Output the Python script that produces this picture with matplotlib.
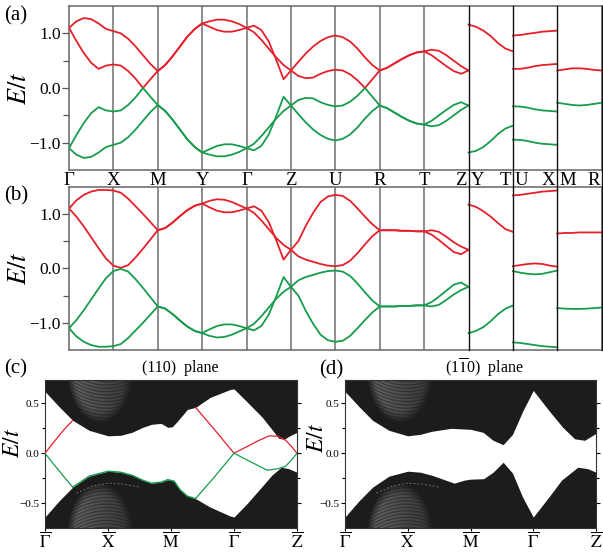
import numpy as np
import matplotlib
matplotlib.use('Agg')
import matplotlib.pyplot as plt
import matplotlib.transforms as mtrans
from matplotlib.lines import Line2D

plt.rcParams['font.family'] = ['Liberation Serif', 'DejaVu Serif']
plt.rcParams['mathtext.fontset'] = 'stix'

RED = '#e5202a'
GREEN = '#179c4d'
DARK = '#1c1c1c'

# ---- bulk bands, panels (a) and (b) ----
# path G-X-M-Y-G-Z-U-R-T-Z sampled every 1/6 of a segment
k_main = np.arange(55) / 6.0
k_short = np.arange(7) / 6.0

a_c1 = [1.10, 1.22, 1.28, 1.26, 1.18, 1.08,
        1.04, 1.00, 0.90, 0.76, 0.60, 0.44,
        0.31, 0.42, 0.58, 0.76, 0.94, 1.08,
        1.18, 1.22, 1.25, 1.25, 1.22, 1.17,
        1.10, 1.14, 1.06, 0.85, 0.52, 0.16,
        0.32, 0.48, 0.63, 0.76, 0.86, 0.93,
        0.96, 0.93, 0.85, 0.72, 0.56, 0.42,
        0.32, 0.37, 0.45, 0.53, 0.60, 0.65,
        0.67, 0.70, 0.68, 0.60, 0.50, 0.40,
        0.32]
a_c2 = [1.10, 0.86, 0.64, 0.46, 0.35, 0.41,
        0.43, 0.41, 0.31, 0.17, 0.00, 0.16,
        0.31, 0.42, 0.58, 0.76, 0.94, 1.08,
        1.18, 1.12, 1.06, 1.03, 1.03, 1.06,
        1.10, 1.02, 0.88, 0.72, 0.56, 0.42,
        0.32, 0.22, 0.18, 0.19, 0.26, 0.31,
        0.335, 0.32, 0.25, 0.14, 0.00, 0.16,
        0.32, 0.37, 0.45, 0.53, 0.60, 0.65,
        0.67, 0.60, 0.50, 0.40, 0.31, 0.26,
        0.32]
a_v1 = [-1.10, -1.22, -1.28, -1.26, -1.18, -1.08,
        -1.04, -1.00, -0.90, -0.76, -0.60, -0.44,
        -0.31, -0.42, -0.58, -0.76, -0.94, -1.08,
        -1.18, -1.22, -1.25, -1.25, -1.22, -1.17,
        -1.10, -1.14, -1.06, -0.85, -0.52, -0.16,
        -0.32, -0.48, -0.63, -0.76, -0.86, -0.93,
        -0.96, -0.93, -0.85, -0.72, -0.56, -0.42,
        -0.32, -0.37, -0.45, -0.53, -0.60, -0.65,
        -0.67, -0.70, -0.68, -0.60, -0.50, -0.40,
        -0.32]
a_v2 = [-1.10, -0.86, -0.64, -0.46, -0.35, -0.41,
        -0.43, -0.41, -0.31, -0.17, 0.00, -0.16,
        -0.31, -0.42, -0.58, -0.76, -0.94, -1.08,
        -1.18, -1.12, -1.06, -1.03, -1.03, -1.06,
        -1.10, -1.02, -0.88, -0.72, -0.56, -0.42,
        -0.32, -0.22, -0.18, -0.19, -0.26, -0.31,
        -0.335, -0.32, -0.25, -0.14, 0.00, -0.16,
        -0.32, -0.37, -0.45, -0.53, -0.60, -0.65,
        -0.67, -0.60, -0.50, -0.40, -0.31, -0.26,
        -0.32]
# separate pieces Y-T, U-X, M-R
a_yt = {'c': [[1.16, 1.12, 1.05, 0.95, 0.82, 0.72, 0.67]],
        'v': [[-1.18, -1.15, -1.08, -0.97, -0.84, -0.74, -0.69]]}
a_ux = {'c': [[0.96, 0.97, 0.99, 1.01, 1.03, 1.04, 1.05],
              [0.35, 0.35, 0.37, 0.40, 0.42, 0.43, 0.44]],
        'v': [[-0.335, -0.34, -0.36, -0.39, -0.41, -0.42, -0.43],
              [-0.945, -0.95, -0.97, -1.00, -1.02, -1.03, -1.04]]}
a_mr = {'c': [[0.32, 0.34, 0.36, 0.36, 0.35, 0.33, 0.32]],
        'v': [[-0.27, -0.29, -0.31, -0.32, -0.31, -0.29, -0.27]]}

b_c1 = [1.10, 1.25, 1.35, 1.41, 1.44, 1.44,
        1.43, 1.39, 1.28, 1.14, 1.00, 0.85,
        0.70, 0.74, 0.84, 0.96, 1.07, 1.15,
        1.19, 1.24, 1.27, 1.26, 1.22, 1.16,
        1.10, 1.14, 1.06, 0.85, 0.52, 0.16,
        0.34, 0.50, 0.78, 1.02, 1.22, 1.32,
        1.35, 1.33, 1.24, 1.10, 0.95, 0.81,
        0.70, 0.70, 0.70, 0.69, 0.69, 0.68,
        0.68, 0.70, 0.67, 0.58, 0.48, 0.40,
        0.34]
b_c2 = [1.10, 0.95, 0.77, 0.57, 0.37, 0.18,
        0.05, 0.01, 0.06, 0.20, 0.36, 0.53,
        0.70, 0.74, 0.84, 0.96, 1.07, 1.15,
        1.19, 1.12, 1.06, 1.03, 1.03, 1.06,
        1.10, 1.02, 0.88, 0.72, 0.56, 0.43,
        0.34, 0.22, 0.16, 0.12, 0.08, 0.05,
        0.04, 0.06, 0.14, 0.28, 0.44, 0.59,
        0.70, 0.70, 0.70, 0.69, 0.69, 0.68,
        0.68, 0.62, 0.52, 0.41, 0.30, 0.26,
        0.34]
b_v1 = [-1.10, -1.25, -1.35, -1.41, -1.44, -1.44,
        -1.43, -1.39, -1.28, -1.14, -1.00, -0.85,
        -0.70, -0.74, -0.84, -0.96, -1.07, -1.15,
        -1.19, -1.24, -1.27, -1.26, -1.22, -1.16,
        -1.10, -1.14, -1.06, -0.85, -0.52, -0.16,
        -0.34, -0.50, -0.78, -1.02, -1.22, -1.32,
        -1.35, -1.33, -1.24, -1.10, -0.95, -0.81,
        -0.70, -0.70, -0.70, -0.69, -0.69, -0.68,
        -0.68, -0.70, -0.67, -0.58, -0.48, -0.40,
        -0.34]
b_v2 = [-1.10, -0.95, -0.77, -0.57, -0.37, -0.18,
        -0.05, -0.01, -0.06, -0.20, -0.36, -0.53,
        -0.70, -0.74, -0.84, -0.96, -1.07, -1.15,
        -1.19, -1.12, -1.06, -1.03, -1.03, -1.06,
        -1.10, -1.02, -0.88, -0.72, -0.56, -0.43,
        -0.34, -0.22, -0.16, -0.12, -0.08, -0.05,
        -0.04, -0.06, -0.14, -0.28, -0.44, -0.59,
        -0.70, -0.70, -0.70, -0.69, -0.69, -0.68,
        -0.68, -0.62, -0.52, -0.41, -0.30, -0.26,
        -0.34]
b_yt = {'c': [[1.17, 1.13, 1.05, 0.95, 0.83, 0.72, 0.67]],
        'v': [[-1.19, -1.15, -1.08, -0.97, -0.84, -0.74, -0.685]]}
b_ux = {'c': [[1.34, 1.35, 1.37, 1.39, 1.41, 1.42, 1.43],
              [0.04, 0.06, 0.08, 0.09, 0.08, 0.05, 0.03]],
        'v': [[-0.05, -0.08, -0.10, -0.11, -0.10, -0.07, -0.04],
              [-1.36, -1.37, -1.39, -1.41, -1.43, -1.44, -1.45]]}
b_mr = {'c': [[0.64, 0.65, 0.65, 0.66, 0.66, 0.66, 0.66]],
        'v': [[-0.73, -0.74, -0.745, -0.745, -0.74, -0.73, -0.72]]}

row_labels = [(0, 'Γ', 'center'), (1, 'X', 'center'), (2, 'M', 'center'),
              (3, 'Y', 'center'), (4, 'Γ', 'center'), (5, 'Z', 'center'),
              (6, 'U', 'center'), (7, 'R', 'center'), (8, 'T', 'center'),
              (9, 'Z', 'right'), (9, 'Y', 'left'), (10, 'T', 'right'),
              (10, 'U', 'left'), (11, 'X', 'right'), (11, 'M', 'left'),
              (12, 'R', 'right')]

# ---- surface spectra, panels (c) and (d) ----
c_up_k = [0, 0.22, 0.44, 0.7, 1.0, 1.2, 1.38, 1.55, 1.69, 1.84, 1.95, 2.02, 2.1,
          2.26, 2.39, 2.62, 2.94, 3.0, 3.2, 3.45, 3.6, 3.71, 3.8, 3.87, 4.0]
c_up_e = [0.62, 0.47, 0.33, 0.23, 0.175, 0.18, 0.21, 0.26, 0.29, 0.30, 0.26, 0.265, 0.32,
          0.44, 0.46, 0.56, 0.64, 0.645, 0.52, 0.36, 0.24, 0.15, 0.14, 0.17, 0.21]
c_lo_k = [0, 0.22, 0.44, 0.7, 1.0, 1.2, 1.38, 1.55, 1.69, 1.84, 1.95, 2.05, 2.15,
          2.26, 2.39, 2.62, 2.94, 3.0, 3.2, 3.45, 3.6, 3.75, 3.87, 4.0]
c_lo_e = [-0.64, -0.48, -0.34, -0.23, -0.18, -0.19, -0.22, -0.27, -0.30, -0.29, -0.265, -0.28, -0.37,
          -0.43, -0.455, -0.54, -0.63, -0.64, -0.51, -0.33, -0.22, -0.14, -0.155, -0.19]
d_up_k = [0, 0.22, 0.44, 0.7, 1.0, 1.2, 1.38, 1.69, 2.0, 2.2, 2.36, 2.52, 2.67, 2.83,
          3.0, 3.26, 3.47, 3.66, 3.82, 4.0]
d_up_e = [0.62, 0.47, 0.33, 0.23, 0.175, 0.19, 0.22, 0.25, 0.24, 0.21, 0.13, 0.086, 0.19, 0.42,
          0.63, 0.42, 0.26, 0.145, 0.13, 0.20]
d_lo_k = [0, 0.22, 0.44, 0.7, 1.0, 1.2, 1.38, 1.74, 1.9, 2.0, 2.21, 2.36, 2.52, 2.67, 2.83,
          3.0, 3.26, 3.45, 3.71, 3.87, 4.0]
d_lo_e = [-0.64, -0.48, -0.34, -0.23, -0.18, -0.19, -0.22, -0.30, -0.27, -0.26, -0.255, -0.19, -0.09, -0.20, -0.44,
          -0.64, -0.43, -0.27, -0.14, -0.155, -0.19]
faint_k = [0.5, 0.75, 1.0, 1.25, 1.5]
faint_e = [-0.40, -0.33, -0.30, -0.31, -0.34]

# surface states of the (110) plane
c_red = [([0.0, 0.15, 0.30, 0.44], [0.0, 0.12, 0.235, 0.33]),
         ([2.39, 2.70, 3.0], [0.46, 0.23, 0.0]),
         ([3.0, 3.2, 3.4, 3.56, 3.7, 3.82, 3.91, 4.0], [0.0, 0.065, 0.13, 0.175, 0.17, 0.13, 0.07, 0.0])]
c_green = [([0.0, 0.15, 0.30, 0.44], [0.0, -0.12, -0.235, -0.34]),
           ([2.39, 2.70, 3.0], [-0.455, -0.23, 0.0]),
           ([3.0, 3.2, 3.4, 3.53, 3.7, 3.82, 3.91, 4.0], [0.0, -0.065, -0.13, -0.17, -0.155, -0.13, -0.07, 0.0])]
edge_range = (0.44, 2.39)   # green state running along the lower continuum edge

surf_ticks = [r'$\overline{\Gamma}$', r'$\overline{\rm X}$', r'$\overline{\rm M}$',
              r'$\overline{\Gamma}$', r'$\overline{\rm Z}$']

W, H = 603, 552
fig = plt.figure(figsize=(W / 100, H / 100), dpi=100)


def rect(l, t, r, b):
    return [l / W, 1 - b / H, (r - l) / W, (b - t) / H]


ax_a = fig.add_axes(rect(69, 6, 601.7, 170))
ax_b = fig.add_axes(rect(69, 186.7, 601.7, 350))
ax_c = fig.add_axes(rect(45, 380, 297, 528))
ax_d = fig.add_axes(rect(345, 380, 596, 528))


def band_panel(ax, bands, pieces):
    for e, col in bands:
        ax.plot(k_main, e, color=col, lw=1.3, zorder=3)
    for start, piece in pieces:
        for e in piece['c']:
            ax.plot(start + k_short, e, color=RED, lw=1.3, zorder=3)
        for e in piece['v']:
            ax.plot(start + k_short, e, color=GREEN, lw=1.3, zorder=3)
    for k in range(1, 9):
        ax.axvline(k, color='#7a7a7a', lw=1.2, zorder=1)
    ax.set_xlim(0, 12)
    ax.set_ylim(-1.5, 1.5)
    ax.set_xticks([])
    ax.set_yticks([-1, 0, 1])
    ax.set_yticklabels(['\u22121.0', '0.0', '1.0'])
    ax.set_yticks([-0.5, 0.5], minor=True)
    ax.tick_params(axis='y', which='both', direction='out', length=5, width=0.9,
                   color='#555555', labelsize=12.5, pad=1)
    ax.tick_params(axis='y', which='minor', length=4)
    for s in ax.spines.values():
        s.set_color('#666666')
        s.set_linewidth(1.1)


band_panel(ax_a, [(a_c1, RED), (a_c2, RED), (a_v1, GREEN), (a_v2, GREEN)],
           [(9, a_yt), (10, a_ux), (11, a_mr)])
band_panel(ax_b, [(b_c1, RED), (b_c2, RED), (b_v1, GREEN), (b_v2, GREEN)],
           [(9, b_yt), (10, b_ux), (11, b_mr)])

# section breaks run through both panels and the label row
for k in (9, 10, 11, 12):
    xf = (69 + (601.7 - 69) * k / 12) / W
    fig.add_artist(Line2D([xf, xf], [1 - 6 / H, 1 - 350 / H], color='#111111', lw=1.0))

base = mtrans.blended_transform_factory(ax_a.transData, fig.transFigure)
for k, lab, ha in row_labels:
    dx = {'center': 0, 'right': -2, 'left': 2}[ha]
    tr = mtrans.offset_copy(base, fig=fig, x=dx, y=0, units='dots')
    ax_a.text(k, 1 - 185 / H, lab, transform=tr, ha=ha, va='baseline',
              fontsize=13.5, clip_on=False)


def texture(ax, sign):
    xs = np.linspace(0.3, 1.45, 260)
    ys = np.linspace(0.27, 0.75, 160)
    X, Y = np.meshgrid(xs, ys)
    e = 1 - ((X - 0.87) / 0.52) ** 2 - ((Y - 0.80) / 0.50) ** 2
    fade = np.clip(e * 2.5, 0, 1)
    shade = np.clip(1.2 - 0.8 * (X - 0.35), 0.3, 1.0)
    stripes = (0.5 + 0.5 * np.cos(2 * np.pi * (Y - 0.35 * (X - 0.97) ** 2) / 0.033)) ** 0.3
    g = 0.11 + fade * shade * 0.27 * stripes
    rgba = np.dstack([g, g, g, (fade > 0).astype(float)])
    if sign > 0:
        ax.imshow(rgba, extent=[0.3, 1.45, 0.27, 0.75], origin='lower',
                  aspect='auto', interpolation='bilinear', zorder=2)
    else:
        ax.imshow(rgba[::-1], extent=[0.3, 1.45, -0.75, -0.27], origin='lower',
                  aspect='auto', interpolation='bilinear', zorder=2)


def surface_panel(ax, upk, upe, lok, loe):
    ax.fill_between(upk, upe, 0.9, color=DARK, lw=0, zorder=1)
    ax.fill_between(lok, -0.9, loe, color=DARK, lw=0, zorder=1)
    texture(ax, 1)
    texture(ax, -1)
    ax.plot(faint_k, faint_e, color='#6e6e6e', lw=0.7, ls=(0, (2, 2)), zorder=3)
    ax.set_xlim(0, 4)
    ax.set_ylim(-0.75, 0.735)
    ax.set_xticks(range(5))
    ax.set_xticklabels(surf_ticks, fontsize=12.5)
    ax.set_yticks([-0.5, 0, 0.5])
    ax.set_yticklabels(['\u22120.5', '0.0', '0.5'])
    ax.set_yticks([-0.25, 0.25], minor=True)
    ax.tick_params(axis='y', which='both', direction='out', right=True,
                   length=3, width=0.8, labelsize=8, pad=1)
    ax.tick_params(axis='y', which='minor', length=2)
    ax.tick_params(axis='x', direction='out', length=2.5, width=0.8, pad=0)
    for s in ax.spines.values():
        s.set_color('#333333')
        s.set_linewidth(0.8)


surface_panel(ax_c, c_up_k, c_up_e, c_lo_k, c_lo_e)
surface_panel(ax_d, d_up_k, d_up_e, d_lo_k, d_lo_e)

for k, e in c_red:
    ax_c.plot(k, e, color=RED, lw=0.9, zorder=4)
for k, e in c_green:
    ax_c.plot(k, e, color=GREEN, lw=0.9, zorder=4)
lk = np.array(c_lo_k)
sel = (lk >= edge_range[0]) & (lk <= edge_range[1])
ax_c.plot(lk[sel], np.array(c_lo_e)[sel], color=GREEN, lw=1.0, zorder=4)

# labels
for x, y, fs in ((20, 88, 19), (20, 268, 19), (14, 443, 17), (317, 438, 17)):
    fig.text(x / W, 1 - y / H, r'$E/t$', rotation=90, fontsize=fs,
             ha='center', va='center')
for lab, x, y in (('(a)', 4, 16), ('(b)', 4, 196), ('(c)', 4, 369), ('(d)', 319, 370)):
    fig.text(x / W, 1 - y / H, lab, fontsize=15, ha='left', va='center')
fig.text(180 / W, 1 - 368 / H, '(110)  plane', fontsize=11.5, ha='center', va='center')
fig.text(484 / W, 1 - 368 / H, r'(1$\overline{\mathrm{1}}$0)  plane', fontsize=11.5,
         ha='center', va='center')

fig.savefig('out.png', dpi=100)
